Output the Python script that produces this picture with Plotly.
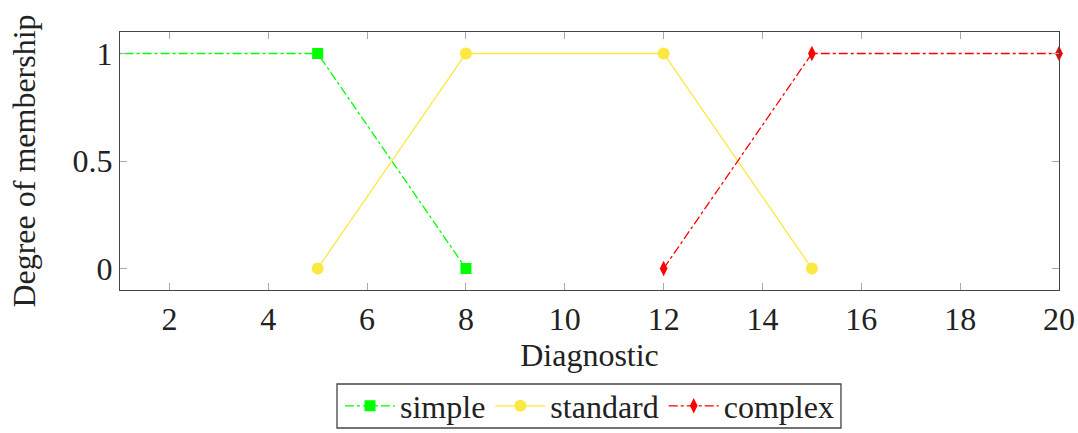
import plotly.graph_objects as go

# Membership functions for the diagnostic classes
simple_x = [0, 5, 8]
simple_y = [1, 1, 0]
standard_x = [5, 8, 12, 15]
standard_y = [0, 1, 1, 0]
complex_x = [12, 15, 20]
complex_y = [0, 1, 1]

x_ticks = [2, 4, 6, 8, 10, 12, 14, 16, 18, 20]
y_ticks = [0, 0.5, 1]

FONT = "Liberation Serif"
FS = 32
TXT = "#222222"

fig = go.Figure()
fig.add_trace(go.Scatter(
    x=simple_x, y=simple_y, name="simple", mode="lines+markers",
    line=dict(color="#00ff00", width=1.3, dash="dashdot"),
    marker=dict(symbol="square", size=11, color="#00ff00"),
    cliponaxis=True,
))
fig.add_trace(go.Scatter(
    x=standard_x, y=standard_y, name="standard", mode="lines+markers",
    line=dict(color="#fbe840", width=1.3),
    marker=dict(symbol="circle", size=12, color="#fbe840"),
    cliponaxis=False,
))
fig.add_trace(go.Scatter(
    x=complex_x, y=complex_y, name="complex", mode="lines+markers",
    line=dict(color="#ff0000", width=1.3, dash="dashdot"),
    marker=dict(symbol="diamond-tall", size=11, color="#ff0000"),
    cliponaxis=False,
))

axis_common = dict(
    showgrid=False, zeroline=False, showline=True, linecolor="#444444",
    linewidth=1.3, mirror="allticks", ticks="inside", ticklen=7,
    tickcolor="#aaaaaa", tickwidth=1.3, automargin=False,
    tickfont=dict(family=FONT, size=FS, color=TXT),
)

fig.update_xaxes(
    range=[1, 20], tickvals=x_ticks,
    title=dict(text="Diagnostic", font=dict(family=FONT, size=FS, color=TXT), standoff=6),
    **axis_common,
)
fig.update_yaxes(
    range=[-0.1, 1.1], tickvals=y_ticks,
    title=dict(text="Degree of membership", font=dict(family=FONT, size=FS, color=TXT), standoff=27),
    **axis_common,
)

# Frame around the legend row
fig.add_shape(
    type="rect", xref="paper", yref="paper",
    x0=0.2311, x1=0.7678, y0=-0.5349, y1=-0.3643,
    line=dict(color="#444444", width=1.3), fillcolor="rgba(0,0,0,0)",
    layer="above",
)

fig.update_layout(
    width=1078, height=433,
    margin=dict(l=120, r=19, t=32, b=143),
    plot_bgcolor="white", paper_bgcolor="white",
    font=dict(family=FONT, size=FS, color=TXT),
    legend=dict(
        orientation="h", x=0.5, xanchor="center",
        yref="container", y=0.0624, yanchor="middle",
        borderwidth=0, bgcolor="rgba(0,0,0,0)",
        font=dict(family=FONT, size=FS, color=TXT),
        itemwidth=50, tracegroupgap=0,
    ),
)

fig.write_html("out.html")
